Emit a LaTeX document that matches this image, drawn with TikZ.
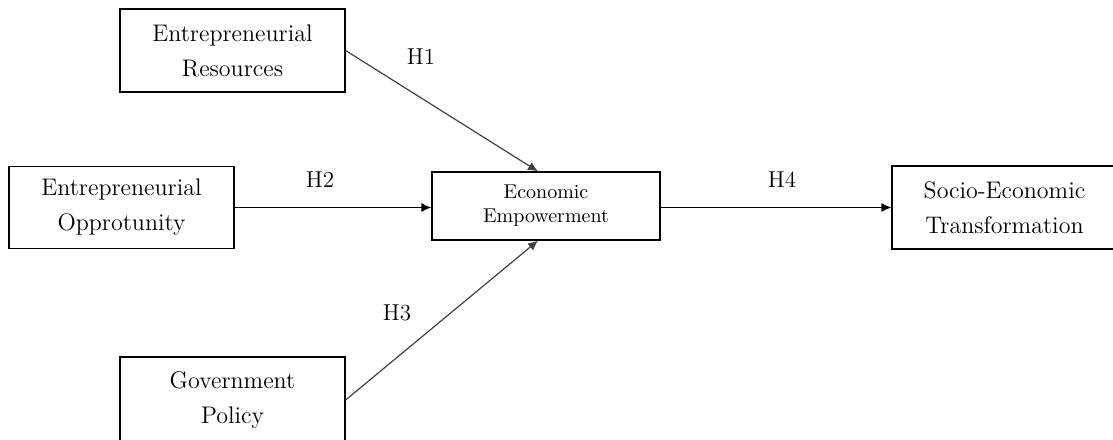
\documentclass[tikz,border=0pt]{standalone}
\usepackage{tikz}
\usetikzlibrary{arrows.meta, positioning}

\begin{document}
\begin{tikzpicture}[
  x=0.5pt, y=-0.5pt,
  box/.style={draw, line width=0.6pt, minimum width=112.5pt, minimum height=41.5pt, align=center, font=\fontsize{12}{17.5}\selectfont},
  hyp/.style={font=\fontsize{11.5}{13}\selectfont},
  arr/.style={line width=0.6pt, -{Latex[length=5pt, width=4.5pt]}}
]
  \useasboundingbox (0,0) rectangle (1113,439);
  \clip (0,0) rectangle (1113,439);

  % Constructs
  \node[box] (res) at (232.5, 50.5) {Entrepreneurial\\Resources};
  \node[box, minimum height=41pt] (opp) at (121.5, 207.5) {Entrepreneurial\\Opprotunity};
  \node[box, minimum width=114pt, minimum height=34pt, font=\fontsize{10}{12}\selectfont] (eco) at (546, 206) {Economic\\Empowerment};
  \node[box] (soc) at (1004.5, 207.5) {Socio-Economic\\Transformation};
  \node[box, minimum height=43pt] (gov) at (232.5, 400) {Government\\Policy};

  % Paths
  \draw[arr, black!75] (res.east) -- ([xshift=-4pt]eco.north);
  \draw[arr] (opp.east) -- (opp.east -| eco.west);
  \draw[arr, black!75] (gov.east) -- ([xshift=-4pt]eco.south);
  \draw[arr] (eco.east |- soc.west) -- (soc.west);

  % Hypotheses
  \node[hyp] (h1) at (421, 57) {H1};
  \node[hyp] (h2) at (320, 180) {H2};
  \node[hyp] (h3) at (397, 313) {H3};
  \node[hyp] (h4) at (782, 180) {H4};
\end{tikzpicture}
\end{document}
